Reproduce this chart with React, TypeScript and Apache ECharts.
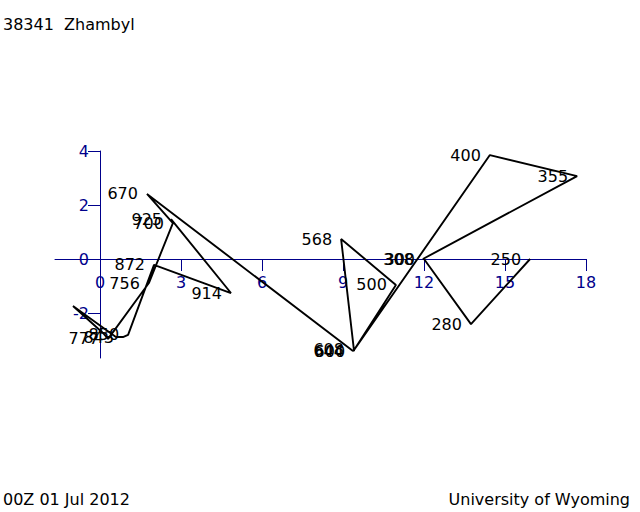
import React, { useEffect, useRef } from "react";
import * as echarts from "echarts";

// Hodograph levels (hPa) and wind components (u, v)
const levelLabels = ["925", "914", "872", "850", "843", "", "", "", "777", "756", "700", "670", "644", "608", "600", "568", "500", "", "400", "355", "308", "300", "280", "250"];
const uValues = [2.63, 4.85, 2.0, 1.04, 0.85, 0.59, -1.0, 0.15, 0.3, 1.81, 2.7, 1.74, 9.37, 9.37, 9.41, 8.93, 10.96, 9.41, 14.44, 17.67, 11.96, 12.0, 13.74, 15.93];
const vValues = [1.48, -1.26, -0.22, -2.81, -2.89, -2.89, -1.74, -2.78, -2.96, -0.89, 1.33, 2.41, -3.41, -3.37, -3.41, 0.74, -0.96, -3.37, 3.85, 3.07, 0.0, 0.0, -2.41, 0.0];

const xTickValues = [0, 3, 6, 9, 12, 15, 18];
const yTickValues = [-2, 0, 2, 4];

const stationTitle = "38341  Zhambyl";
const dateText = "00Z 01 Jul 2012";
const sourceText = "University of Wyoming";

const FONT = '"DejaVu Sans", sans-serif';
const AXIS_COLOR = "#00008b";

export default function App() {
  const ref = useRef<HTMLDivElement>(null);

  useEffect(() => {
    document.body.style.margin = "0";
    if (!ref.current) return;
    const chart = echarts.init(ref.current, undefined, { renderer: "svg" });

    const points = uValues.map((u, i) => ({ value: [u, vValues[i]], name: levelLabels[i] }));

    chart.setOption({
      animation: false,
      backgroundColor: "#ffffff",
      grid: { left: 55, top: 151, width: 531, height: 207, containLabel: false },
      xAxis: {
        type: "value",
        min: -5 / 3,
        max: 18,
        axisLine: { show: true, onZero: true, lineStyle: { color: AXIS_COLOR, width: 1 } },
        axisTick: { show: true, length: 12, customValues: xTickValues, lineStyle: { color: AXIS_COLOR } },
        axisLabel: {
          show: true,
          customValues: xTickValues,
          margin: -84,
          color: AXIS_COLOR,
          fontSize: 16,
          fontFamily: FONT,
        },
        splitLine: { show: false },
      },
      yAxis: {
        type: "value",
        min: -11 / 3,
        max: 4,
        axisLine: { show: true, onZero: true, lineStyle: { color: AXIS_COLOR, width: 1 } },
        axisTick: { show: true, length: 12, customValues: yTickValues, lineStyle: { color: AXIS_COLOR } },
        axisLabel: {
          show: true,
          customValues: yTickValues,
          margin: -34,
          color: AXIS_COLOR,
          fontSize: 16,
          fontFamily: FONT,
        },
        splitLine: { show: false },
      },
      series: [
        {
          type: "line",
          data: points,
          symbol: "none",
          lineStyle: { color: "#000000", width: 1.9 },
          silent: true,
          z: 3,
        },
        {
          type: "scatter",
          data: points,
          symbolSize: 0,
          itemStyle: { color: "#000000" },
          label: {
            show: true,
            position: "left",
            distance: 9,
            color: "#000000",
            opacity: 1,
            fontSize: 16,
            fontFamily: FONT,
            formatter: (p: any) => p.name,
          },
          silent: true,
          z: 4,
        },
      ],
      graphic: [
        {
          type: "text",
          style: { x: 3, y: 24, text: stationTitle, font: `16px ${FONT}`, fill: "#000", verticalAlign: "middle", align: "left" },
        },
        {
          type: "text",
          style: { x: 3, y: 499, text: dateText, font: `16px ${FONT}`, fill: "#000", verticalAlign: "middle", align: "left" },
        },
        {
          type: "text",
          style: { x: 630, y: 499, text: sourceText, font: `16px ${FONT}`, fill: "#000", verticalAlign: "middle", align: "right" },
        },
      ],
    });

    return () => chart.dispose();
  }, []);

  return <div ref={ref} style={{ width: 640, height: 512 }} />;
}
